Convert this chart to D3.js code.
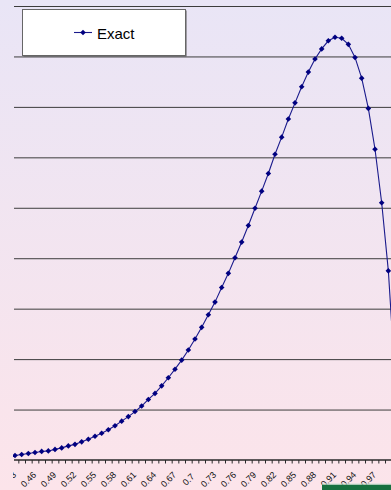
<!DOCTYPE html>
<html>
<head>
<meta charset="utf-8">
<script src="https://cdn.jsdelivr.net/npm/d3@7"></script>
<style>
  html, body { margin: 0; padding: 0; background: #fff; }
  svg { display: block; }
</style>
</head>
<body>
<svg id="chart" width="391" height="490"></svg>
<script>
// Category axis values (x) and the "Exact" series
const categories = [
  "0.43","0.44","0.45","0.46","0.47","0.48","0.49","0.5","0.51","0.52",
  "0.53","0.54","0.55","0.56","0.57","0.58","0.59","0.6","0.61","0.62",
  "0.63","0.64","0.65","0.66","0.67","0.68","0.69","0.7","0.71","0.72",
  "0.73","0.74","0.75","0.76","0.77","0.78","0.79","0.8","0.81","0.82",
  "0.83","0.84","0.85","0.86","0.87","0.88","0.89","0.9","0.91","0.92",
  "0.93","0.94","0.95","0.96","0.97","0.98","0.99","1"
];
const exactValues = [
  0.09, 0.11, 0.13, 0.15, 0.17, 0.18, 0.21, 0.24, 0.28, 0.31,
  0.36, 0.41, 0.47, 0.53, 0.60, 0.68, 0.77, 0.86, 0.96, 1.07,
  1.20, 1.32, 1.47, 1.63, 1.80, 1.98, 2.18, 2.40, 2.63, 2.88,
  3.13, 3.42, 3.70, 4.01, 4.32, 4.65, 4.99, 5.33, 5.68, 6.06,
  6.40, 6.76, 7.08, 7.40, 7.69, 7.95, 8.15, 8.31, 8.38, 8.36,
  8.24, 7.98, 7.57, 6.97, 6.16, 5.10, 3.75, 1.65
];
// Labelled categories along the axis
const tickLabels = [
  "0.43","0.46","0.49","0.52","0.55","0.58","0.61","0.64","0.67","0.7",
  "0.73","0.76","0.79","0.82","0.85","0.88","0.91","0.94","0.97"
];
const gridValues = [1, 2, 3, 4, 5, 6, 7, 8, 9];
const seriesName = "Exact";

const W = 391, H = 490;
const plotLeft = 14, plotRight = 391, plotTop = 6, plotBottom = 460;
const step = 6.667;
const firstCenter = 15;

const svg = d3.select("#chart");

// background gradient
const defs = svg.append("defs");
const grad = defs.append("linearGradient")
  .attr("id", "bg").attr("x1", 0).attr("y1", 0).attr("x2", 0).attr("y2", 1);
grad.append("stop").attr("offset", "0%").attr("stop-color", "#e9e5f6");
grad.append("stop").attr("offset", "100%").attr("stop-color", "#fce4ea");
svg.append("rect").attr("width", W).attr("height", H).attr("fill", "url(#bg)");

defs.append("clipPath").attr("id", "clip")
  .append("rect").attr("x", 13).attr("y", 0).attr("width", W - 13).attr("height", H);

const x = d3.scaleBand()
  .domain(categories)
  .range([firstCenter - step / 2, firstCenter - step / 2 + step * categories.length])
  .padding(0);
const y = d3.scaleLinear().domain([0, 9]).range([plotBottom, plotTop]);
const cx = d => x(d) + x.bandwidth() / 2;

const g = svg.append("g").attr("clip-path", "url(#clip)");

// horizontal gridlines
const gridAxis = d3.axisLeft(y)
  .tickValues(gridValues)
  .tickSize(-(plotRight - plotLeft))
  .tickFormat("");
const grid = g.append("g").attr("transform", `translate(${plotLeft},0)`).call(gridAxis);
grid.select(".domain").remove();
grid.selectAll(".tick line").attr("stroke", "#3c3c3c").attr("stroke-width", 1);

// category axis line with tick marks between categories
g.append("line")
  .attr("x1", plotLeft).attr("x2", plotRight)
  .attr("y1", plotBottom).attr("y2", plotBottom)
  .attr("stroke", "#2a2a2a").attr("stroke-width", 1.6);
g.append("g").selectAll("line")
  .data(categories)
  .join("line")
  .attr("x1", d => x(d) + 0.5).attr("x2", d => x(d) + 0.5)
  .attr("y1", plotBottom).attr("y2", plotBottom + 3.5)
  .attr("stroke", "#2a2a2a").attr("stroke-width", 1);

// rotated category labels
g.append("g").selectAll("text")
  .data(tickLabels)
  .join("text")
  .attr("transform", d => `translate(${cx(d) - 6.5},479.5) rotate(-45)`)
  .attr("text-anchor", "middle")
  .attr("dominant-baseline", "central")
  .attr("font-family", "'Liberation Sans', Arial, sans-serif")
  .attr("font-size", 9)
  .attr("fill", "#111")
  .text(d => d);

// series line and diamond markers
const pts = categories.map((c, i) => ({ c, v: exactValues[i] }));
g.append("path")
  .datum(pts)
  .attr("fill", "none")
  .attr("stroke", "#1a1a8c")
  .attr("stroke-width", 1.1)
  .attr("d", d3.line().x(d => cx(d.c)).y(d => y(d.v)));

const diamond = "M0,-2.8L2.8,0L0,2.8L-2.8,0Z";
g.append("g").selectAll("path")
  .data(pts)
  .join("path")
  .attr("transform", d => `translate(${cx(d.c)},${y(d.v)})`)
  .attr("d", diamond)
  .attr("fill", "#000080");

// legend
const lg = svg.append("g");
lg.append("rect")
  .attr("x", 23.5).attr("y", 10.5).attr("width", 163).attr("height", 46)
  .attr("fill", "#555");
lg.append("rect")
  .attr("x", 22.5).attr("y", 9.5).attr("width", 163).attr("height", 46)
  .attr("fill", "#fff").attr("stroke", "#666").attr("stroke-width", 1);
lg.append("line")
  .attr("x1", 74).attr("x2", 92).attr("y1", 32.5).attr("y2", 32.5)
  .attr("stroke", "#1a1a8c").attr("stroke-width", 1.1);
lg.append("path")
  .attr("transform", "translate(83,32.5)")
  .attr("d", diamond)
  .attr("fill", "#000080");
lg.append("text")
  .attr("x", 97).attr("y", 38.5)
  .attr("font-family", "'Liberation Sans', Arial, sans-serif")
  .attr("font-size", 15)
  .attr("fill", "#000")
  .text(seriesName);

// strip along the lower right edge
svg.append("rect")
  .attr("x", 322).attr("y", 484.5).attr("width", W - 322).attr("height", 6)
  .attr("fill", "#17703f");
svg.append("line")
  .attr("x1", 322).attr("x2", W).attr("y1", 484).attr("y2", 484)
  .attr("stroke", "#cfe3d6").attr("stroke-width", 1);
</script>
</body>
</html>
